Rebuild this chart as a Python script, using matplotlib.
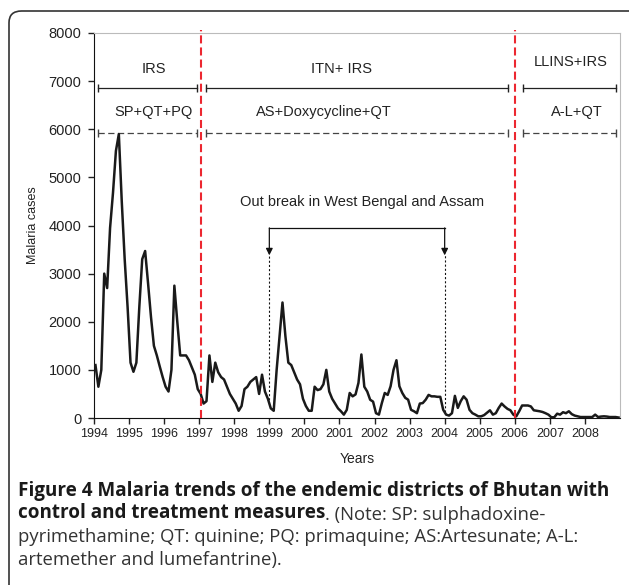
import numpy as np
import matplotlib
matplotlib.use('Agg')
import matplotlib.pyplot as plt
from matplotlib.patches import FancyBboxPatch

plt.rcParams['font.family'] = ['Liberation Sans', 'DejaVu Sans']
plt.rcParams['lines.scale_dashes'] = False

# monthly malaria cases, Jan 1994 - Dec 2008
monthly_cases = [
    1100, 650, 1000, 3000, 2700, 3950, 4680, 5550, 5900, 4500, 3300, 2300,   # 1994
    1150, 960, 1150, 2300, 3300, 3470, 2800, 2100, 1500, 1300, 1070, 850,    # 1995
    650, 550, 1000, 2750, 2000, 1300, 1300, 1300, 1200, 1050, 900, 600,      # 1996
    500, 300, 350, 1300, 750, 1150, 950, 850, 800, 650, 500, 400,            # 1997
    300, 150, 250, 600, 650, 750, 800, 850, 500, 900, 550, 400,              # 1998
    200, 150, 1000, 1700, 2400, 1700, 1150, 1100, 950, 800, 700, 400,        # 1999
    250, 150, 150, 650, 580, 600, 700, 1000, 550, 400, 300, 200,             # 2000
    140, 70, 170, 520, 450, 490, 730, 1320, 650, 550, 380, 340,              # 2001
    100, 70, 310, 520, 480, 660, 1000, 1200, 660, 520, 420, 380,             # 2002
    170, 140, 100, 300, 310, 380, 480, 450, 450, 440, 440, 170,              # 2003
    70, 50, 100, 460, 210, 350, 450, 380, 170, 100, 70, 35,                  # 2004
    35, 60, 110, 160, 70, 100, 210, 300, 240, 190, 160, 70,                  # 2005
    35, 140, 260, 260, 260, 240, 160, 150, 140, 125, 100, 70,                # 2006
    15, 15, 90, 70, 120, 100, 140, 80, 50, 35, 20, 20,                       # 2007
    20, 20, 20, 70, 20, 30, 35, 30, 20, 20, 20, 10,                          # 2008
]
year_ticks = list(range(1994, 2009))

# control periods
policy_changes = [1997.05, 2006.0]
period_start = [1994.12, 1997.2, 2006.24]
period_end = [1996.95, 2005.8, 2008.9]
vector_control = ['IRS', 'ITN+ IRS', 'LLINS+IRS']
treatment = ['SP+QT+PQ', 'AS+Doxycycline+QT', 'A-L+QT']
outbreak_years = [1999, 2004]
outbreak_label = 'Out break in West Bengal and Assam'

years = 1994 + (np.arange(len(monthly_cases)) + 0.5) / 12

fig = plt.figure(figsize=(6.29, 5.85), dpi=100)
ax = fig.add_axes([94 / 629, 1 - 418 / 585, 526 / 629, 385 / 585])

ax.plot(years, monthly_cases, color='#1a1a1a', lw=1.8, zorder=5)

ax.set_xlim(1994, 2009)
ax.set_ylim(0, 8000)
ax.set_xticks(year_ticks)
ax.set_yticks(range(0, 8001, 1000))
ax.tick_params(axis='y', direction='out', length=4, width=1, labelsize=10.5, pad=5, colors='#222')
ax.tick_params(axis='x', direction='out', length=4, width=1, labelsize=9, pad=3, colors='#222')
for s in ['top', 'right']:
    ax.spines[s].set_color('#bbbbbb')
for s in ['left', 'bottom']:
    ax.spines[s].set_color('#111111')

ax.set_xlabel('Years', fontsize=10, color='#222', va='top')
ax.xaxis.set_label_coords(0.5, -0.088)
ax.set_ylabel('Malaria cases', fontsize=9, color='#222')
ax.yaxis.set_label_coords(-0.105, 0.5)

# red lines where policy changed
for xc in policy_changes:
    ax.plot([xc, xc], [0, 8070], color='#ec2730', lw=1.5, dashes=(5.8, 2.9),
            clip_on=False, zorder=6)

# period bars
for x0, x1 in zip(period_start, period_end):
    ax.plot([x0, x1], [6850, 6850], color='#222', lw=0.9)
    ax.plot([x0, x1], [6850, 6850], ls='none', marker='|', ms=6, mew=1, color='#222')
    ax.plot([x0, x1], [5930, 5930], color='#444', lw=0.9, dashes=(4.5, 2.5))
    ax.plot([x0, x1], [5930, 5930], ls='none', marker='|', ms=6, mew=1, color='#444')

vc_x = [1995.72, 2001.05, 2007.59]
vc_y = [7250, 7250, 7400]
tr_x = [1995.69, 2000.55, 2007.77]
for lab, x, y in zip(vector_control, vc_x, vc_y):
    ax.text(x, y, lab, ha='center', va='center', fontsize=10.5, color='#222')
for lab, x in zip(treatment, tr_x):
    ax.text(x, 6355, lab, ha='center', va='center', fontsize=10.5, color='#222')

# outbreak bracket
ax.text(2001.64, 4480, outbreak_label, ha='center', va='center', fontsize=10.5, color='#222')
ax.plot(outbreak_years, [3950, 3950], color='#111', lw=0.9)
for xo in outbreak_years:
    ax.annotate('', xy=(xo, 3380), xytext=(xo, 3950),
                arrowprops=dict(arrowstyle='-|>', mutation_scale=10, color='#111',
                                lw=0.9, shrinkA=0, shrinkB=0))
    ax.plot([xo, xo], [np.interp(xo, years, monthly_cases), 3380], color='#111',
            lw=0.8, dashes=(1.5, 1.5))

# caption
cap_font = ['Open Sans', 'DejaVu Sans']
x_cap = 18 / 629
fs = 11.5
t1 = fig.text(x_cap, 1 - 495.7 / 585,
              'Figure 4 Malaria trends of the endemic districts of Bhutan with',
              fontsize=fs, fontweight='bold', family=cap_font, color='#1a1a1a', va='baseline')
t2 = fig.text(x_cap, 1 - 518.5 / 585, 'control and treatment measures',
              fontsize=fs, fontweight='bold', family=cap_font, color='#1a1a1a', va='baseline')
t3 = fig.text(x_cap, 1 - 541.7 / 585,
              'pyrimethamine; QT: quinine; PQ: primaquine; AS:Artesunate; A-L:',
              fontsize=fs, family=cap_font, color='#333', va='baseline')
t4 = fig.text(x_cap, 1 - 564.5 / 585, 'artemether and lumefantrine).',
              fontsize=fs, family=cap_font, color='#333', va='baseline')

# fit the caption lines to the widths they have in the figure
renderer = fig.canvas.get_renderer()
bold_fs = fs * 594 / t1.get_window_extent(renderer).width
reg_fs = fs * 560 / t3.get_window_extent(renderer).width
for t in [t1, t2]:
    t.set_fontsize(bold_fs)
for t in [t3, t4]:
    t.set_fontsize(reg_fs)

ax.annotate('. (Note: SP: sulphadoxine-', xy=(1, 0), xycoords=t2,
            va='bottom', ha='left', fontsize=reg_fs, family=cap_font,
            color='#333', annotation_clip=False)

# rounded frame around the panel
frame = FancyBboxPatch((9 / 629, -20 / 585), 640 / 629, (585 + 20 - 11) / 585,
                       boxstyle='round,pad=0,rounding_size=0.02',
                       transform=fig.transFigure, fill=False,
                       edgecolor='#333', lw=1.2, clip_on=False)
fig.add_artist(frame)

fig.savefig('out.png', dpi=100)
